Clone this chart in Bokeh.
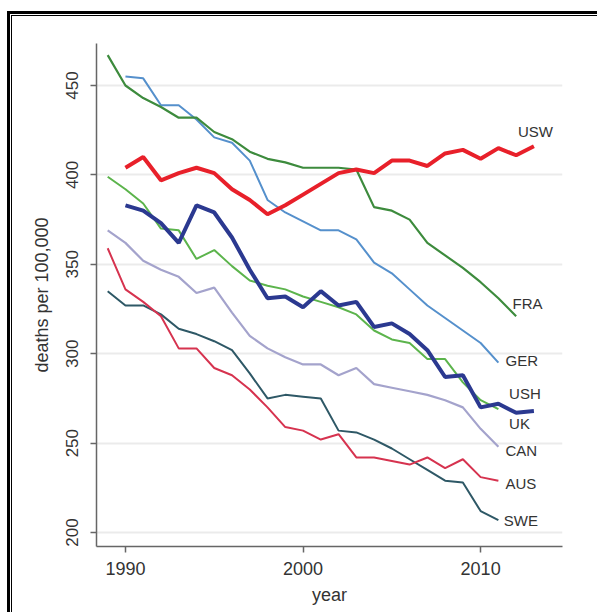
from bokeh.plotting import figure
from bokeh.models import Range1d, FixedTicker, ColumnDataSource, InlineStyleSheet
from bokeh.core.properties import value
from bokeh.embed import file_html
from bokeh.resources import INLINE

# ---------------- data ----------------
fra_years = list(range(1989, 2013))
fra_vals = [467, 450, 443, 438, 432, 432, 424, 420, 413, 409, 407, 404,
            404, 404, 403, 382, 380, 375, 362, 355, 348, 340, 331, 321]

usw_years = list(range(1990, 2014))
usw_vals = [404, 410, 397, 401, 404, 401, 392, 386, 378, 383, 389, 395,
            401, 403, 401, 408, 408, 405, 412, 414, 409, 415, 411, 416]

ger_years = list(range(1990, 2012))
ger_vals = [455, 454, 439, 439, 431, 421, 418, 408, 386, 379, 374, 369,
            369, 364, 351, 345, 336, 327, 320, 313, 306, 295]

uk_years = list(range(1990, 2014))
uk_vals = [383, 380, 373, 362, 383, 379, 365, 347, 331, 332, 326, 335,
           327, 329, 315, 317, 311, 302, 287, 288, 270, 272, 267, 268]

ush_years = list(range(1989, 2012))
ush_vals = [399, 392, 384, 370, 369, 353, 358, 349, 341, 338, 336, 332,
            329, 326, 322, 313, 308, 306, 297, 297, 284, 274, 269]

can_years = list(range(1989, 2012))
can_vals = [369, 362, 352, 347, 343, 334, 337, 323, 310, 303, 298, 294,
            294, 288, 292, 283, 281, 279, 277, 274, 270, 258, 248]

aus_years = list(range(1989, 2012))
aus_vals = [359, 336, 329, 321, 303, 303, 292, 288, 280, 270, 259, 257,
            252, 255, 242, 242, 240, 238, 242, 236, 241, 231, 229]

swe_years = list(range(1989, 2012))
swe_vals = [335, 327, 327, 322, 314, 311, 307, 302, 289, 275, 277, 276,
            275, 257, 256, 252, 247, 241, 235, 229, 228, 212, 207]

x_ticks = [1990, 2000, 2010]
y_ticks = [200, 250, 300, 350, 400, 450]

label_names = ["USW", "FRA", "GER", "USH", "UK", "CAN", "AUS", "SWE"]
label_x = [2012.1, 2011.8, 2011.4, 2011.6, 2011.6, 2011.4, 2011.4, 2011.3]
label_y = [424.5, 328.0, 296.0, 277.7, 261.0, 245.8, 227.4, 206.7]

# ---------------- figure ----------------
FONT = "Liberation Sans"
TXT = "#333333"

p = figure(width=597, height=612, output_backend="svg", toolbar_location=None,
           x_range=Range1d(1988.37, 2014.61), y_range=Range1d(192.2, 473.5),
           min_border_left=96, min_border_right=35, min_border_top=43,
           min_border_bottom=66)

# double frame on the left and top edges (painted by the host element behind
# a transparent canvas border)
frame_css = InlineStyleSheet(css=(
    ":host { background-color: #ffffff; "
    "box-shadow: inset 7px 11px 0 0 #ffffff, inset 10px 14px 0 0 #000000, "
    "inset 11px 15px 0 0 #ffffff, inset 12px 16px 0 0 #000000; }"))
p.stylesheets = [frame_css]

p.background_fill_color = "#ffffff"
p.border_fill_alpha = 0
p.outline_line_color = None

p.xgrid.grid_line_color = None
p.ygrid.grid_line_color = "#ebebeb"
p.ygrid.grid_line_width = 2
p.xaxis.ticker = FixedTicker(ticks=x_ticks)
p.yaxis.ticker = FixedTicker(ticks=y_ticks)

for ax in (p.xaxis[0], p.yaxis[0]):
    ax.axis_line_color = "#666666"
    ax.axis_line_width = 1.5
    ax.major_tick_line_color = "#666666"
    ax.major_tick_line_width = 1.5
    ax.major_tick_out = 6
    ax.major_tick_in = 0
    ax.minor_tick_line_color = None
    ax.major_label_text_font = FONT
    ax.major_label_text_color = TXT
    ax.axis_label_text_font = FONT
    ax.axis_label_text_color = TXT
    ax.axis_label_text_font_style = "normal"

p.xaxis.major_label_text_font_size = "18px"
p.yaxis.major_label_text_font_size = "17px"
p.yaxis.major_label_orientation = "vertical"
p.xaxis.axis_label = "year"
p.yaxis.axis_label = "deaths per 100,000"
p.xaxis.axis_label_text_font_size = "18px"
p.yaxis.axis_label_text_font_size = "18px"
p.yaxis.major_label_standoff = 12
p.xaxis.major_label_standoff = 9
p.yaxis.axis_label_standoff = 12
p.xaxis.axis_label_standoff = 7

# thin lines
p.line(swe_years, swe_vals, line_color="#2e5866", line_width=2)
p.line(aus_years, aus_vals, line_color="#d6334f", line_width=2)
p.line(can_years, can_vals, line_color="#a4a3cc", line_width=2.2)
p.line(ush_years, ush_vals, line_color="#5cb44c", line_width=2)
p.line(ger_years, ger_vals, line_color="#5590cc", line_width=2)
p.line(fra_years, fra_vals, line_color="#3d8b3d", line_width=2.2)
# thick lines
p.line(uk_years, uk_vals, line_color="#2b3990", line_width=4)
p.line(usw_years, usw_vals, line_color="#e8202a", line_width=4)

src = ColumnDataSource(dict(x=label_x, y=label_y, t=label_names))
p.text(x="x", y="y", text="t", source=src, text_font=value(FONT),
       text_font_size="15px", text_color=TXT, text_align="left",
       text_baseline="middle")

open("out.html", "w").write(file_html(p, INLINE))
